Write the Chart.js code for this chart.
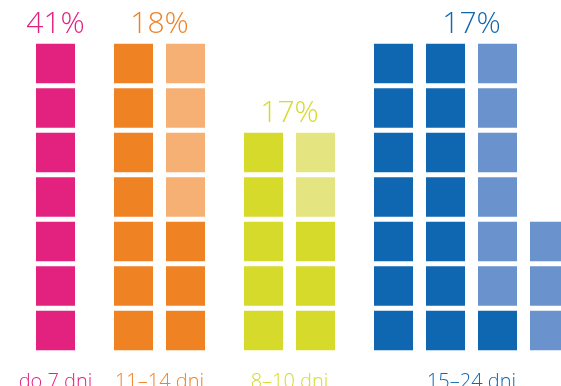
<!DOCTYPE html>
<html>
<head>
<meta charset="utf-8">
<script src="https://cdn.jsdelivr.net/npm/chart.js@4.4.0/dist/chart.umd.min.js"></script>
<style>
  html, body { margin: 0; padding: 0; background: #fff; }
  #wrap { width: 561px; height: 386px; position: relative; }
</style>
</head>
<body>
<div id="wrap"><canvas id="days"></canvas></div>
<script>
// groups (length of stay) and their shares
var groupLabels = ['do 7 dni', '11–14 dni', '8–10 dni', '15–24 dni'];
var groupPercent = [41, 18, 17, 17];

// squares per column inside each group: dark part (bottom) and light part (top)
var darkSquares = [[7], [7, 3], [5, 3], [7, 7, 1, 0]];
var lightSquares = [[0], [0, 4], [0, 2], [0, 0, 6, 3]];

var darkColors = ['#E3227F', '#EF8223', '#D5DA2B', '#0E67B0'];
var lightColors = ['#E3227F', '#F6B074', '#E4E580', '#6A92CC'];

// layout
var W = 561, H = 386;
var rowPx = 44.5, baseY = 352.75;   // one square step, pixel of value 0
var colPx = 52, firstX = 55.5;      // column step, pixel of first column
var groupStep = 1.5;                // step between groups (in column steps)

// build the column list from the groups
var columns = [];
var pos = 0;
groupLabels.forEach(function(g, gi) {
  darkSquares[gi].forEach(function(d, ci) {
    if (ci > 0) pos += 1;
    columns.push({ x: pos, group: gi, dark: d, total: d + lightSquares[gi][ci] });
  });
  pos += groupStep;
});

var maxRows = Math.max.apply(null, columns.map(function(c) { return c.total; }));
var datasets = [];
for (var r = 0; r < maxRows; r++) {
  (function(row) {
    datasets.push({
      data: columns.map(function(c) { return { x: c.x, y: row < c.total ? 1 : null }; }),
      backgroundColor: columns.map(function(c) {
        return row < c.dark ? darkColors[c.group] : lightColors[c.group];
      }),
      borderColor: '#ffffff',
      borderWidth: { top: 2.75, bottom: 2.75, left: 0, right: 0 },
      borderSkipped: false,
      barThickness: 39
    });
  })(r);
}

// percentages above and group names below
var labelsPlugin = {
  id: 'groupLabels',
  afterDatasetsDraw: function(chart) {
    var ctx = chart.ctx;
    var xs = chart.scales.x, ys = chart.scales.y;
    ctx.save();
    ctx.textAlign = 'center';
    ctx.textBaseline = 'alphabetic';
    groupLabels.forEach(function(name, gi) {
      var cols = columns.filter(function(c) { return c.group === gi; });
      var cx = (xs.getPixelForValue(cols[0].x) + xs.getPixelForValue(cols[cols.length - 1].x)) / 2;
      var top = Math.max.apply(null, cols.map(function(c) { return c.total; }));
      ctx.fillStyle = darkColors[gi];
      ctx.font = '300 30px "Open Sans"';
      ctx.fillText(groupPercent[gi] + '%', cx, ys.getPixelForValue(top) - 8.5);
      ctx.font = '300 20px "Open Sans"';
      ctx.fillText(name, cx, ys.getPixelForValue(0) + 35);
    });
    ctx.restore();
  }
};

new Chart('days', {
  type: 'bar',
  data: { datasets: datasets },
  options: {
    responsive: true,
    maintainAspectRatio: false,
    animation: false,
    layout: { padding: 0 },
    scales: {
      x: {
        type: 'linear',
        stacked: true,
        display: false,
        offset: false,
        grid: { offset: false },
        min: -firstX / colPx,
        max: (W - firstX) / colPx
      },
      y: {
        stacked: true,
        display: false,
        min: -(H - baseY) / rowPx,
        max: baseY / rowPx
      }
    },
    plugins: {
      legend: { display: false },
      tooltip: { enabled: false }
    }
  },
  plugins: [labelsPlugin]
});
</script>
</body>
</html>
